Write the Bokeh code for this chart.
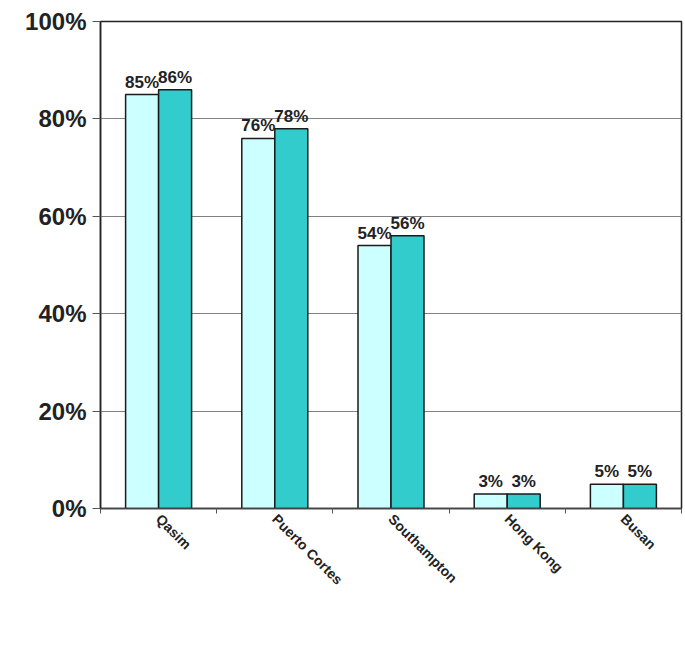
import math
from bokeh.plotting import figure
from bokeh.models import (Range1d, FixedTicker, PrintfTickFormatter, Legend, LegendItem,
                          ColumnDataSource)
from bokeh.transform import dodge
from bokeh.core.properties import value
from bokeh.embed import file_html
from bokeh.resources import INLINE

categories = ["Qasim", "Puerto Cortes", "Southampton", "Hong Kong", "Busan"]
nii = [85, 76, 54, 3, 5]
rpm = [86, 78, 56, 3, 5]
y_ticks = [0, 20, 40, 60, 80, 100]
series_names = ["Non-Intrusive Imaging (NII)", "Radiation Portal Monitors (RPM)"]
series_colors = ["#CCFFFF", "#33CCCC"]

FONT = "Liberation Sans"
BAR_W = 0.284
n = len(categories)
centers = [i + 0.5 for i in range(n)]

src = ColumnDataSource(dict(
    x=centers, nii=nii, rpm=rpm,
    nii_lbl=[f"{v}%" for v in nii], rpm_lbl=[f"{v}%" for v in rpm],
))

p = figure(width=685, height=671, frame_width=581, frame_height=487,
           output_backend="svg", toolbar_location=None,
           x_range=Range1d(0, n), y_range=Range1d(0, 100),
           min_border_left=100, min_border_right=4, min_border_top=21, min_border_bottom=0)
p.background_fill_color = "white"
p.border_fill_color = "white"
p.outline_line_color = "#222222"
p.outline_line_width = 1.5

r1 = p.vbar(x=dodge("x", -BAR_W / 2, range=p.x_range), top="nii", width=BAR_W, source=src,
            fill_color=series_colors[0], line_color="#1a1a1a", line_width=1.5)
r2 = p.vbar(x=dodge("x", BAR_W / 2, range=p.x_range), top="rpm", width=BAR_W, source=src,
            fill_color=series_colors[1], line_color="#1a1a1a", line_width=1.5)

for col, lbl, off in (("nii", "nii_lbl", -BAR_W / 2), ("rpm", "rpm_lbl", BAR_W / 2)):
    p.text(x=dodge("x", off, range=p.x_range), y=col, text=lbl, source=src,
           text_align="center", text_baseline="bottom", y_offset=-3,
           text_font=value(FONT), text_font_style="bold", text_font_size="17px",
           text_color="#222222")

# y axis
p.yaxis.ticker = FixedTicker(ticks=y_ticks)
p.yaxis.formatter = PrintfTickFormatter(format="%d%%")
p.yaxis.major_label_text_font = FONT
p.yaxis.major_label_text_font_style = "bold"
p.yaxis.major_label_text_font_size = "24px"
p.yaxis.major_label_text_color = "#222222"
p.yaxis.major_tick_out = 8
p.yaxis.major_tick_in = 0
p.yaxis.major_tick_line_color = "#555555"
p.yaxis.minor_tick_line_color = None
p.yaxis.axis_line_color = "#222222"
p.yaxis.axis_line_width = 1.5
p.yaxis.major_label_standoff = 6

# x axis: labels at category centres, ticks at category boundaries
p.xaxis.ticker = FixedTicker(ticks=centers, minor_ticks=list(range(n + 1)))
p.xaxis.major_label_overrides = {c: name for c, name in zip(centers, categories)}
p.xaxis.major_label_orientation = -math.pi / 4
p.xaxis.major_label_text_font = FONT
p.xaxis.major_label_text_font_style = "bold"
p.xaxis.major_label_text_font_size = "14px"
p.xaxis.major_label_text_color = "#222222"
p.xaxis.major_tick_in = 0
p.xaxis.major_tick_out = 0
p.xaxis.minor_tick_in = 0
p.xaxis.minor_tick_out = 5
p.xaxis.minor_tick_line_color = "#555555"
p.xaxis.axis_line_color = "#444444"
p.xaxis.axis_line_width = 1.5
p.xaxis.major_label_standoff = 3

p.xgrid.grid_line_color = None
p.ygrid.ticker = FixedTicker(ticks=y_ticks)
p.ygrid.grid_line_color = "#808080"
p.ygrid.grid_line_width = 1

legend = Legend(items=[LegendItem(label=series_names[0], renderers=[r1]),
                       LegendItem(label=series_names[1], renderers=[r2])],
                location="top_left", orientation="vertical",
                glyph_width=16, glyph_height=16, label_standoff=4, spacing=19,
                padding=0, margin=0, border_line_color=None, background_fill_alpha=0,
                label_text_font=FONT, label_text_font_style="bold",
                label_text_font_size="25px", label_text_color="#222222")
p.add_layout(legend, "below")

open("out.html", "w").write(file_html(p, INLINE))
